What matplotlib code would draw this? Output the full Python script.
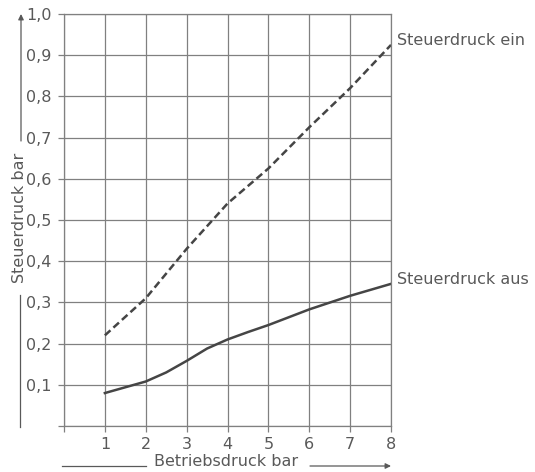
import numpy as np
import matplotlib.pyplot as plt
from matplotlib.ticker import FixedLocator, FuncFormatter

# Betriebsdruck (bar) und Steuerdruck (bar)
x_ein = [1, 2, 3, 4, 5, 6, 7, 8]
p_ein = [0.22, 0.31, 0.43, 0.54, 0.625, 0.725, 0.82, 0.925]

x_aus = [1, 1.5, 2, 2.5, 3, 3.5, 4, 4.5, 5, 6, 7, 8]
p_aus = [0.08, 0.094, 0.108, 0.13, 0.158, 0.188, 0.21, 0.228, 0.245, 0.283, 0.316, 0.345]

x_ticks = [0, 1, 2, 3, 4, 5, 6, 7, 8]
y_ticks = [0, 0.1, 0.2, 0.3, 0.4, 0.5, 0.6, 0.7, 0.8, 0.9, 1.0]

plt.rcParams['font.family'] = ['DejaVu Sans']
txt_col = '#595959'
grid_col = '#808080'
line_col = '#454545'
fs = 11.5

fig = plt.figure(figsize=(5.35, 4.72), dpi=100)
ax = fig.add_axes([64/535, 1 - 426/472, (391 - 64)/535, (426 - 14)/472])

ax.plot(x_ein, p_ein, color=line_col, lw=1.8, ls=(0, (3, 1.6)))
ax.plot(x_aus, p_aus, color=line_col, lw=1.8)

ax.set_xlim(0, 8)
ax.set_ylim(0, 1.0)
ax.xaxis.set_major_locator(FixedLocator(x_ticks))
ax.yaxis.set_major_locator(FixedLocator(y_ticks))
ax.xaxis.set_major_formatter(FuncFormatter(lambda v, p: '' if v == 0 else '%d' % v))
ax.yaxis.set_major_formatter(FuncFormatter(lambda v, p: '' if v == 0 else ('%.1f' % v).replace('.', ',')))
ax.grid(True, color=grid_col, lw=0.9)
for s in ax.spines.values():
    s.set_color(grid_col)
    s.set_linewidth(0.9)
ax.tick_params(direction='out', length=4, width=0.9, color=grid_col,
               labelcolor=txt_col, labelsize=fs)
ax.tick_params(axis='y', pad=5)
ax.tick_params(axis='x', pad=4)

# Kurvenbeschriftung
ax.text(8.15, p_ein[-1] + 0.01, 'Steuerdruck ein', color=txt_col, fontsize=fs,
        va='center', ha='left', clip_on=False)
ax.text(8.15, p_aus[-1] + 0.01, 'Steuerdruck aus', color=txt_col, fontsize=fs,
        va='center', ha='left', clip_on=False)

# Achsenbeschriftung mit Pfeillinien
fig.text(226/535, 1 - 462/472, 'Betriebsdruck bar', color=txt_col, fontsize=fs,
         ha='center', va='center')
fig.add_artist(plt.Line2D([62/535, 146/535], [1 - 466/472] * 2, color=txt_col, lw=0.9))
fig.text(20/535, 1 - 218/472, 'Steuerdruck bar', color=txt_col, fontsize=fs,
         ha='center', va='center', rotation=90)
fig.add_artist(plt.Line2D([20/535] * 2, [1 - 427/472, 1 - 295/472], color=txt_col, lw=0.9))
ax.annotate('', xy=(391/535, 1 - 466/472), xytext=(310/535, 1 - 466/472),
            xycoords='figure fraction', textcoords='figure fraction',
            arrowprops=dict(arrowstyle='-|>', color=txt_col, lw=0.9,
                            mutation_scale=8, shrinkA=0, shrinkB=0))
ax.annotate('', xy=(21/535, 1 - 14/472), xytext=(21/535, 1 - 141/472),
            xycoords='figure fraction', textcoords='figure fraction',
            arrowprops=dict(arrowstyle='-|>', color=txt_col, lw=0.9,
                            mutation_scale=8, shrinkA=0, shrinkB=0))

fig.savefig('out.png', dpi=100)
